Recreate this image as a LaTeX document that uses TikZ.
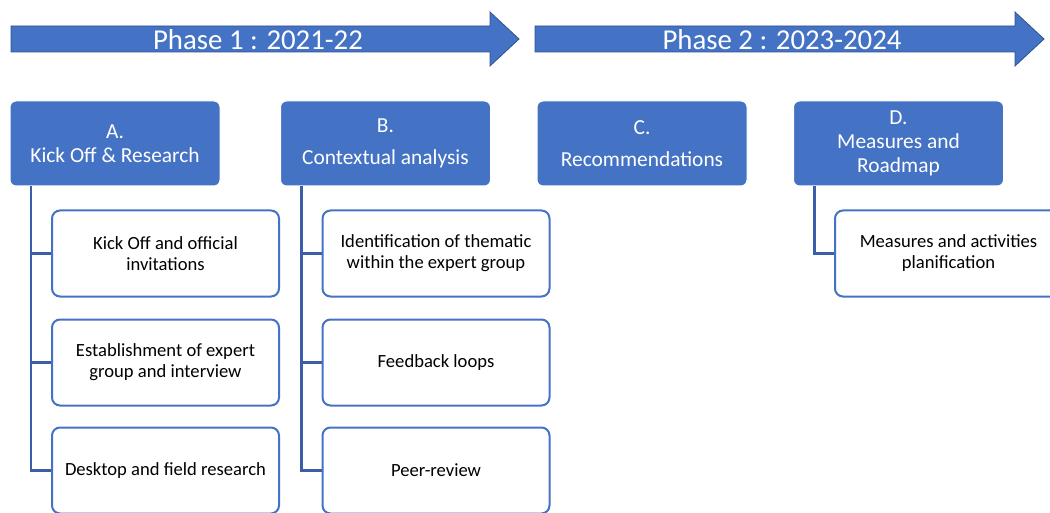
\documentclass[tikz,border=0pt]{standalone}
\usepackage{fontspec}
\setmainfont{Carlito}
\definecolor{phaseblue}{HTML}{4472C4}
\definecolor{edgeblue}{HTML}{2F528F}
\definecolor{linkblue}{HTML}{3A5FA8}

\begin{document}
\begin{tikzpicture}[x=1pt,y=-1pt,
    stage/.style={rounded corners=6pt, fill=phaseblue, draw=white, line width=1pt, text=white,
        minimum width=210pt, minimum height=85pt, align=center, inner sep=0pt,
        font=\fontsize{21.4}{24}\selectfont},
    task/.style={rounded corners=8pt, fill=white, draw=phaseblue, line width=2pt,
        minimum width=227pt, minimum height=86pt, align=center, inner sep=0pt,
        font=\fontsize{18.6}{21}\selectfont},
    phase/.style={text=white, font=\fontsize{28.8}{32}\selectfont, inner sep=0pt},
    link/.style={draw=linkblue, line width=2.2pt}]
    \useasboundingbox (0,0) rectangle (1050,513);

    % timeline arrows
    \filldraw[fill=phaseblue, draw=edgeblue, line width=0.8pt] (11,26) -- (490,26) -- (490,12) -- (519,39) -- (490,66) -- (490,52) -- (11,52) -- cycle;
    \filldraw[fill=phaseblue, draw=edgeblue, line width=0.8pt] (535,26) -- (1015,26) -- (1015,12) -- (1044,39) -- (1015,66) -- (1015,52) -- (535,52) -- cycle;
    \node[phase] (p1) at (258,40) {Phase 1 : 2021-22};
    \node[phase] (p2) at (782,40) {Phase 2 : 2023-2024};

    % stages
    \node[stage] (A) at (115,143.5) {A.\\Kick Off \& Research};
    \node[stage] (B) at (385.5,143.5) {B.\\[8pt]Contextual analysis};
    \node[stage] (C) at (642,143.5) {C.\\[8pt]Recommendations};
    \node[stage] (D) at (898.5,143.5) {D.\\Measures and\\Roadmap};

    % tasks
    \node[task] (a1) at (165.5,253.5) {Kick Off and official\\invitations};
    \node[task] (a2) at (165.5,362.5) {Establishment of expert\\group and interview};
    \node[task] (a3) at (165.5,470.5) {Desktop and field research};
    \node[task] (b1) at (436,253.5) {Identification of thematic\\within the expert group};
    \node[task] (b2) at (436,362.5) {Feedback loops};
    \node[task] (b3) at (436,470.5) {Peer-review};
    \node[task] (d1) at (948.5,253.5) {Measures and activities\\planification};

    % links
    \draw[link] ([xshift=-84pt]A.south) |- (a1.west);
    \draw[link] ([xshift=-84pt]A.south) |- (a2.west);
    \draw[link] ([xshift=-84pt]A.south) |- (a3.west);
    \draw[link] ([xshift=-84pt]B.south) |- (b1.west);
    \draw[link] ([xshift=-84pt]B.south) |- (b2.west);
    \draw[link] ([xshift=-84pt]B.south) |- (b3.west);
    \draw[link] ([xshift=-84pt]D.south) |- (d1.west);
\end{tikzpicture}
\end{document}
